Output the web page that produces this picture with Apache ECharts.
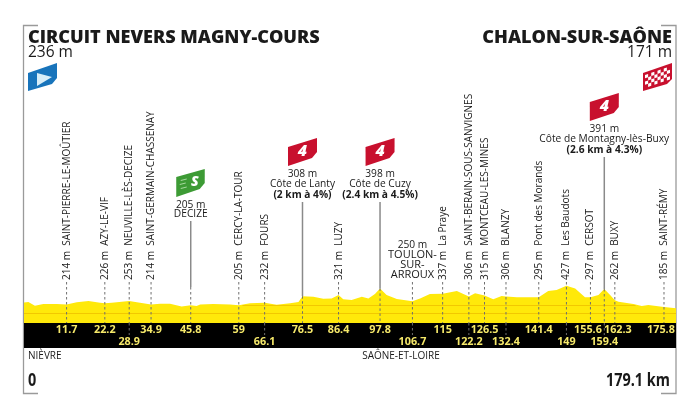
<!DOCTYPE html>
<html>
<head>
<meta charset="utf-8">
<style>html,body{margin:0;padding:0;background:#fff}#chart{width:700px;height:420px}</style>
<script src="https://cdn.jsdelivr.net/npm/echarts@6/dist/echarts.min.js"></script>
</head>
<body>
<div id="chart"></div>
<script>
// Stage profile: distance (km) and altitude (m)
const profileKm = [0,1.2,3,5.3,9,11.7,14.5,17.7,20.9,22.2,24.1,28.9,31,34.9,37.4,40.1,43.3,45.8,47.4,48.4,52,56.6,59,62.1,66.1,69.4,73.1,75.4,76.5,79.5,82.2,84.5,86.4,87.7,90,92.8,94.6,96.4,97.8,99.6,102.4,106.7,108.8,111.5,115,118.9,120.7,122.2,123.9,126.5,128.9,131.2,132.4,135.4,141.4,144,146.3,149,151.4,154.1,155.6,157.8,159.4,161,162.3,163.3,167.4,169.7,171.5,175.8,179.1];
const profileAlt = [236,241,199,218,218,214,238,253,234,226,234,253,238,214,222,222,191,205,195,214,218,214,205,226,232,211,226,241,308,303,280,283,321,272,264,303,283,333,398,322,276,250,283,333,337,368,333,306,341,315,272,310,306,295,295,368,379,427,398,295,297,322,391,322,262,245,218,195,207,185,171];

// Waypoints with a rotated label
const waypointKm = [11.7,22.2,28.9,34.9,59,66.1,86.4,115,122.2,126.5,132.4,141.4,149,155.6,162.3,175.8];
const waypointAlt = [214,226,253,214,205,232,321,337,306,315,306,295,427,297,262,185];
const waypointName = ['SAINT-PIERRE-LE-MOÛTIER','AZY-LE-VIF','NEUVILLE-LÈS-DECIZE','SAINT-GERMAIN-CHASSENAY','CERCY-LA-TOUR','FOURS','LUZY','La Praye','SAINT-BERAIN-SOUS-SANVIGNES','MONTCEAU-LES-MINES','BLANZY','Pont des Morands','Les Baudots','CERSOT','BUXY','SAINT-RÉMY'];

// Sprint, climbs and the town carrying a horizontal label
const climbKm = [76.5,97.8,159.4];
const climbAlt = [308,398,391];
const climbName = ['Côte de Lanty','Côte de Cuzy','Côte de Montagny-lès-Buxy'];
const climbGrade = ['(2 km à 4%)','(2.4 km à 4.5%)','(2.6 km à 4.3%)'];
const sprintKm = 45.8, sprintAlt = 205, sprintName = 'DECIZE';
const townKm = 106.7, townAlt = 250, townLines = ['TOULON-','SUR-','ARROUX'];

// Distance markers in the black band: upper row, lower row
const bandUpper = [11.7,22.2,34.9,45.8,59,76.5,86.4,97.8,115,126.5,141.4,155.6,162.3,175.8];
const bandLower = [28.9,66.1,106.7,122.2,132.4,149,159.4];

const FONT = '"Open Sans", sans-serif';
const INK = '#1a1a1a', GREY = '#8a8a8a', BAND_TOP = 323, BAND_BOTTOM = 348;
// Crowded band labels are nudged sideways so they stay apart
const bandNudge = { 155.6: -2.5, 162.3: 3, 175.8: -3 };

function label(text, x, y, size, weight, align, extra) {
  return Object.assign({
    type: 'text', x, y,
    style: { text, fill: INK, font: `${weight} ${size}px ${FONT}`, align: align, verticalAlign: 'middle' }
  }, extra || {});
}
function poly(points, fill) {
  return { type: 'polygon', shape: { points }, style: { fill } };
}
function vline(x, y1, y2, dashed) {
  return { type: 'line', shape: { x1: x, y1, x2: x, y2 },
    style: { stroke: dashed ? '#6f6f6f' : GREY, lineWidth: dashed ? 1 : 1.5, lineDash: dashed ? [2.5, 2.5] : null } };
}
// Slanted banner hanging from the top-right corner (x = pole, y = top)
function banner(x, y, fill, mark) {
  const t = label(mark, x, y + 13, 16, 800, 'center');
  t.style.fill = '#fff';
  t.style.font = `italic 800 16px ${FONT}`;
  return [
    poly([[x-14.5,y+9],[x+14.5,y],[x+14.5,y+14],[x+9.5,y+20],[x-14.5,y+28]], fill),
    t
  ];
}

function renderMarks(params, api) {
  const kids = [];
  const X = km => api.coord([km, 0])[0];
  const Y = alt => api.coord([0, alt])[1];

  function bandText(km, y) {
    const g = label(String(km), X(km) + (bandNudge[km] || 0), y, 10.8, 700, 'center');
    g.style.fill = '#f6e96a';
    return g;
  }
  // Distance band
  bandUpper.forEach(km => kids.push(bandText(km, 330)));
  bandLower.forEach(km => {
    kids.push(vline(X(km), BAND_TOP, 335, true));
    kids.push(bandText(km, 342));
  });

  // Rotated waypoints
  waypointKm.forEach((km, i) => {
    const x = X(km);
    kids.push(vline(x, 282, BAND_TOP, true));
    kids.push(label(`${waypointAlt[i]} m  ${waypointName[i]}`, x, 280, 10.6, 400, 'left', { rotation: Math.PI / 2, scaleX: 0.943 }));
  });

  // Intermediate sprint
  const sx = X(sprintKm);
  kids.push(vline(sx, 221, 287, false), vline(sx, 287, BAND_TOP, true));
  kids.push(label(`${sprintAlt} m`, sx, 205, 10.2, 400, 'center'), label(sprintName, sx, 214.5, 10.2, 400, 'center'));
  kids.push(poly([[sx-14.5,177],[sx+14,169],[sx+14,183],[sx+9,189],[sx-14.5,197]], '#3d9b35'));
  [[-10,180],[-11,184],[-10,188]].forEach(p => kids.push(poly([[sx+p[0],p[1]],[sx+p[0]+6,p[1]-1.5],[sx+p[0]+6,p[1]-0.5],[sx+p[0],p[1]+1]], '#a8d8a0')));
  const sprintMark = label('S', sx + 4, 182, 14, 800, 'center');
  sprintMark.style.fill = '#fff';
  sprintMark.style.font = `italic 800 14px ${FONT}`;
  kids.push(sprintMark);

  // Town with horizontal label
  const tx = X(townKm);
  kids.push(vline(tx, 282, BAND_TOP, true));
  kids.push(label(`${townAlt} m`, tx, 245, 10.2, 400, 'center'));
  townLines.forEach((s, i) => kids.push(label(s, tx, 255 + i * 10, 11, 400, 'center')));

  // Categorised climbs
  climbKm.forEach((km, i) => {
    const x = X(km);
    const top = i === 2 ? 93 : 138;
    kids.push(...banner(x, top, '#c8102e', '4'));
    kids.push(label(`${climbAlt[i]} m`, x, top + 36, 10.2, 400, 'center'));
    kids.push(label(climbName[i], x, top + 46, 10.2, 400, 'center'));
    kids.push(label(climbGrade[i], x, top + 57, 10.2, 700, 'center'));
    kids.push(vline(x, top + 64, Y(climbAlt[i]), false));
    kids.push(vline(x, Y(climbAlt[i]), BAND_TOP, true));
  });

  return { type: 'group', children: kids };
}

// Blue start banner and red chequered finish banner
function endBanners() {
  const out = [
    poly([[28,73],[57,63],[57,78],[52,84],[28,91]], '#1874bb'),
    poly([[37,73],[52,77],[37,86]], '#d8eef8'),
    poly([[643,73],[672,63],[672,79],[667,84],[643,91]], '#c8102e')
  ];
  const cols = 8, rows = 4, w = 25 / cols, h = 13 / rows, slope = 0.345;
  for (let c = 0; c < cols; c++) for (let r = 0; r < rows; r++) {
    if ((c + r) % 2) continue;
    const x = 645 + c * w, y = 75 - c * w * slope + r * h;
    out.push(poly([[x,y],[x+w,y-w*slope],[x+w,y-w*slope+h],[x,y+h]], '#fff'));
  }
  return out;
}

const frame = [
  [[38,25.5],[23.5,25.5],[23.5,393.5],[38,393.5]],
  [[661,25.5],[676,25.5],[676,393.5],[661,393.5]]
].map(points => ({ type: 'polyline', shape: { points }, style: { stroke: '#9a9a9a', lineWidth: 1.3, fill: null } }));

const texts = [
  ['CIRCUIT NEVERS MAGNY-COURS', 28, 37.5, 18.1, 800, 'left'],
  ['236 m', 28, 53, 15.5, 400, 'left'],
  ['CHALON-SUR-SAÔNE', 672, 37.5, 18.1, 800, 'right'],
  ['171 m', 672, 53, 15.5, 400, 'right'],
  ['NIÈVRE', 28, 356.5, 10, 400, 'left'],
  ['SAÔNE-ET-LOIRE', 401, 356.5, 10, 400, 'center'],
  ['0', 28, 381, 17, 700, 'left', { scaleX: 0.85 }],
  ['179.1 km', 670, 381, 17, 700, 'right', { scaleX: 0.85 }]
];

const chart = echarts.init(document.getElementById('chart'), null, { renderer: 'canvas' });
chart.setOption({
  animation: false,
  backgroundColor: '#fff',
  grid: { left: 24, right: 24, top: 20, bottom: 97 },
  xAxis: { type: 'value', min: 0, max: 179.1, show: false },
  yAxis: { type: 'value', min: 0, max: 3485, show: false },
  graphic: [
    ...frame,
    { type: 'rect', shape: { x: 24, y: BAND_TOP, width: 652, height: BAND_BOTTOM - BAND_TOP }, style: { fill: '#000' }, z: 1 },
    ...endBanners(),
    ...texts.map(t => label(t[0], t[1], t[2], t[3], t[4], t[5], t[6]))
  ],
  series: [
    {
      type: 'line',
      data: profileKm.map((km, i) => [km, profileAlt[i]]),
      showSymbol: false,
      silent: true,
      lineStyle: { width: 0 },
      areaStyle: { color: '#ffe90a', opacity: 1 },
      markLine: {
        silent: true, symbol: 'none', label: { show: false },
        lineStyle: { color: '#f2c800', width: 1, type: 'solid' },
        data: [
          { yAxis: 115 },
          [{ coord: [60, 205] }, { coord: [168, 205] }]
        ]
      },
      z: 2
    },
    {
      type: 'custom',
      coordinateSystem: 'cartesian2d',
      data: [[0, 0]],
      clip: false,
      silent: true,
      renderItem: renderMarks,
      z: 5
    }
  ]
});
</script>
</body>
</html>
